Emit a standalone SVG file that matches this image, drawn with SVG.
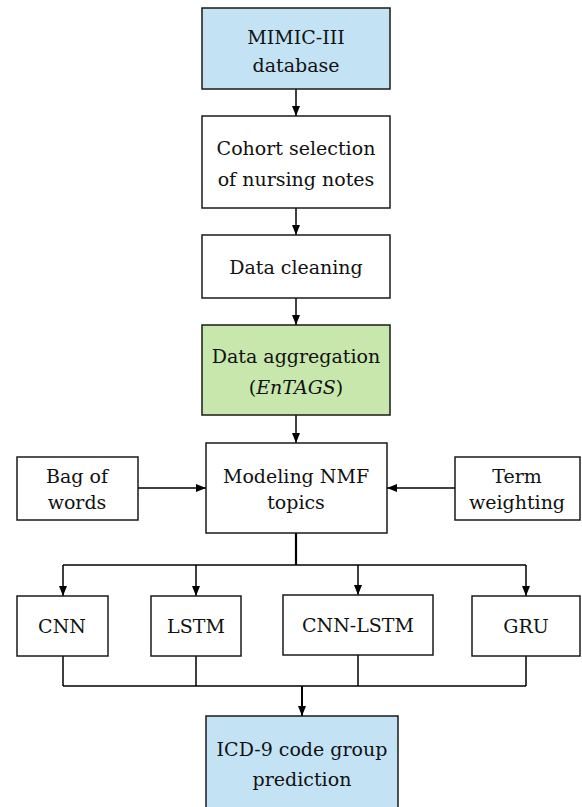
<svg xmlns="http://www.w3.org/2000/svg" width="582" height="807" viewBox="0 0 582 807">
  <defs>
    <marker id="arr" viewBox="0 0 10 10" refX="10" refY="5" markerWidth="10" markerHeight="10" markerUnits="userSpaceOnUse" orient="auto">
      <path d="M0,1 L10,5 L0,9 Z" fill="#000"/>
    </marker>
    <style>
      rect { stroke: #1a1a1a; stroke-width: 1.5; fill: #fff; }
      rect.blue { fill: #c3e3f5; }
      rect.green { fill: #c8e7ad; }
      text { font-family: 'DejaVu Serif', 'Liberation Serif', serif; font-size: 19px; fill: #111; text-anchor: middle; }
      .conn path { stroke: #000; stroke-width: 1.5; fill: none; }
      .conn path.arrow { marker-end: url(#arr); }
    </style>
  </defs>

  <g class="conn" id="connectors">
    <path class="arrow" d="M296,89 V116"/>
    <path class="arrow" d="M296,208 V235"/>
    <path class="arrow" d="M296,298 V325"/>
    <path class="arrow" d="M296,415 V443"/>
    <path class="arrow" d="M138,488 H206"/>
    <path class="arrow" d="M455,488 H387"/>
    <path d="M296,533 V565" style="stroke-width:2.2"/>
    <path d="M63,565 H526"/>
    <path class="arrow" d="M63,565 V596"/>
    <path class="arrow" d="M196,565 V596"/>
    <path class="arrow" d="M358,565 V595"/>
    <path class="arrow" d="M526,565 V596"/>
    <path d="M63,656 V686 M196,656 V686 M358,655 V686 M526,656 V686 M63,686 H526"/>
    <path class="arrow" d="M302,686 V716" style="stroke-width:2"/>
  </g>

  <g id="mimic">
    <rect class="blue" x="202" y="8" width="188" height="81"/>
    <text x="296" y="44">MIMIC-III</text>
    <text x="296" y="72">database</text>
  </g>
  <g id="cohort">
    <rect x="202" y="116" width="188" height="92"/>
    <text x="296" y="155">Cohort selection</text>
    <text x="296" y="186">of nursing notes</text>
  </g>
  <g id="cleaning">
    <rect x="202" y="235" width="188" height="63"/>
    <text x="296" y="274">Data cleaning</text>
  </g>
  <g id="aggregation">
    <rect class="green" x="202" y="325" width="188" height="90"/>
    <text x="296" y="363">Data aggregation</text>
    <text x="296" y="394">(<tspan font-style="italic">EnTAGS</tspan>)</text>
  </g>
  <g id="nmf">
    <rect x="206" y="443" width="181" height="90"/>
    <text x="296" y="483">Modeling NMF</text>
    <text x="296" y="509">topics</text>
  </g>
  <g id="bow">
    <rect x="17" y="457" width="121" height="63"/>
    <text x="77" y="483">Bag of</text>
    <text x="77" y="509">words</text>
  </g>
  <g id="term">
    <rect x="455" y="457" width="125" height="63"/>
    <text x="517" y="483">Term</text>
    <text x="517" y="509">weighting</text>
  </g>
  <g id="cnn">
    <rect x="17" y="596" width="91" height="60"/>
    <text x="62" y="633">CNN</text>
  </g>
  <g id="lstm">
    <rect x="151" y="596" width="90" height="60"/>
    <text x="196" y="633">LSTM</text>
  </g>
  <g id="cnnlstm">
    <rect x="283" y="595" width="150" height="60"/>
    <text x="358" y="632">CNN-LSTM</text>
  </g>
  <g id="gru">
    <rect x="472" y="596" width="108" height="60"/>
    <text x="526" y="633">GRU</text>
  </g>
  <g id="icd">
    <rect class="blue" x="206" y="716" width="192" height="100"/>
    <text x="302" y="756">ICD-9 code group</text>
    <text x="302" y="786">prediction</text>
  </g>
</svg>
